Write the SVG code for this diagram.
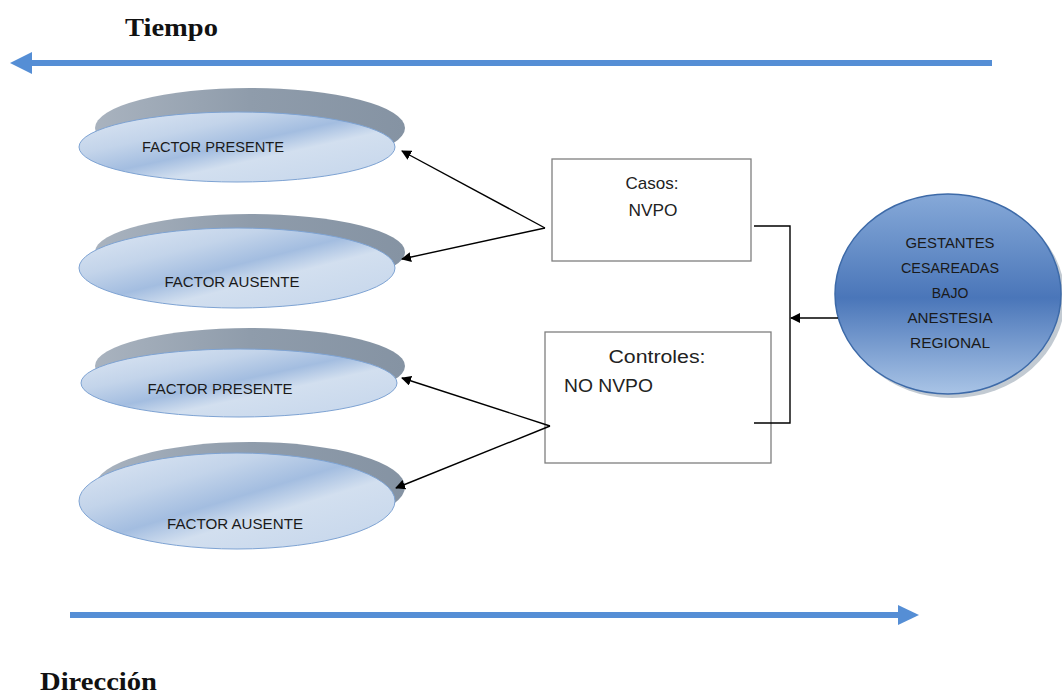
<svg xmlns="http://www.w3.org/2000/svg" width="1062" height="693" viewBox="0 0 1062 693">
<defs>
<linearGradient id="gFront" x1="0" y1="0" x2="1" y2="1">
<stop offset="0" stop-color="#dfe8f4"/>
<stop offset="0.3" stop-color="#c3d4ea"/>
<stop offset="0.48" stop-color="#a3bde0"/>
<stop offset="0.62" stop-color="#d2dfef"/>
<stop offset="1" stop-color="#c4d5eb"/>
</linearGradient>
<linearGradient id="gShadow" x1="0" y1="0" x2="1" y2="0">
<stop offset="0" stop-color="#a9b3bf"/>
<stop offset="0.5" stop-color="#8f9cab"/>
<stop offset="1" stop-color="#8593a3"/>
</linearGradient>
<linearGradient id="gCircle" x1="0" y1="0" x2="0" y2="1">
<stop offset="0" stop-color="#86a9d8"/>
<stop offset="0.52" stop-color="#4a76b9"/>
<stop offset="1" stop-color="#a9c4e6"/>
</linearGradient>
<marker id="ah" viewBox="0 0 10 10" refX="9" refY="5" markerWidth="10" markerHeight="10" markerUnits="userSpaceOnUse" orient="auto">
<path d="M0,0 L10,5 L0,10 z" fill="#000"/>
</marker>
</defs>
<style>
.shadow{fill:url(#gShadow);}
.front{fill:url(#gFront);stroke:#7ea3d3;stroke-width:1;}
.lbl{font-family:"Liberation Sans",Arial,sans-serif;font-size:14px;fill:#1a1a1a;text-anchor:middle;}
.box{fill:#fff;stroke:#7f7f7f;stroke-width:1.3;}
.btxt{font-family:"Liberation Sans",Arial,sans-serif;fill:#222;}
.conn{stroke:#000;stroke-width:1.4;fill:none;}
.big{stroke:#558ed5;stroke-width:6;fill:none;}
.title{font-family:"Liberation Serif","Times New Roman",serif;font-weight:bold;font-size:25px;fill:#111;}
</style>

<g id="tiempo">
<text class="title" x="125" y="36" textLength="93" lengthAdjust="spacingAndGlyphs">Tiempo</text>
<line class="big" x1="992" y1="63" x2="30" y2="63"/>
<path d="M10,63 L32,52 L32,74 z" fill="#558ed5"/>
</g>

<g id="direccion">
<line class="big" x1="70" y1="615" x2="900" y2="615"/>
<path d="M919,615 L898,605 L898,625 z" fill="#558ed5"/>
<text class="title" x="40" y="690" font-size="26" textLength="117" lengthAdjust="spacingAndGlyphs">Dirección</text>
</g>

<g id="e1">
<ellipse class="shadow" cx="250" cy="128" rx="155" ry="40"/>
<ellipse class="front" cx="237" cy="147" rx="158" ry="35"/>
<text class="lbl" x="213" y="152" textLength="142" lengthAdjust="spacingAndGlyphs">FACTOR PRESENTE</text>
</g>

<g id="e2">
<ellipse class="shadow" cx="250" cy="252" rx="155" ry="38"/>
<ellipse class="front" cx="237" cy="268" rx="158" ry="40"/>
<text class="lbl" x="232" y="287" textLength="135" lengthAdjust="spacingAndGlyphs">FACTOR AUSENTE</text>
</g>

<g id="e3">
<ellipse class="shadow" cx="250" cy="366" rx="155" ry="38"/>
<ellipse class="front" cx="239" cy="383" rx="158" ry="34"/>
<text class="lbl" x="220" y="394" textLength="145" lengthAdjust="spacingAndGlyphs">FACTOR PRESENTE</text>
</g>

<g id="e4">
<ellipse class="shadow" cx="250" cy="487" rx="155" ry="45"/>
<ellipse class="front" cx="237" cy="501" rx="158" ry="48"/>
<text class="lbl" x="235" y="529" textLength="136" lengthAdjust="spacingAndGlyphs">FACTOR AUSENTE</text>
</g>

<g id="casos">
<rect class="box" x="552" y="159" width="199" height="102"/>
<text class="btxt" x="652" y="189" font-size="17" text-anchor="middle" textLength="53" lengthAdjust="spacingAndGlyphs">Casos:</text>
<text class="btxt" x="653" y="216" font-size="17" text-anchor="middle" textLength="49" lengthAdjust="spacingAndGlyphs">NVPO</text>
</g>

<g id="controles">
<rect class="box" x="545" y="332" width="226" height="131"/>
<text class="btxt" x="657" y="363" font-size="18" text-anchor="middle" textLength="97" lengthAdjust="spacingAndGlyphs">Controles:</text>
<text class="btxt" x="564" y="392" font-size="18" textLength="89" lengthAdjust="spacingAndGlyphs">NO NVPO</text>
</g>

<g id="gestantes">
<ellipse cx="952" cy="298" rx="113" ry="100" fill="#9aa6b4" opacity="0.6"/>
<ellipse cx="948" cy="294" rx="113" ry="100" fill="url(#gCircle)" stroke="#3d6aa8" stroke-width="1.5"/>
<text class="lbl" x="950" y="248" textLength="89" lengthAdjust="spacingAndGlyphs">GESTANTES</text>
<text class="lbl" x="950" y="273" textLength="98" lengthAdjust="spacingAndGlyphs">CESAREADAS</text>
<text class="lbl" x="950" y="298">BAJO</text>
<text class="lbl" x="950" y="323" textLength="85" lengthAdjust="spacingAndGlyphs">ANESTESIA</text>
<text class="lbl" x="950" y="348" textLength="80" lengthAdjust="spacingAndGlyphs">REGIONAL</text>
</g>

<g id="connectors">
<line class="conn" x1="545" y1="228" x2="402" y2="151" marker-end="url(#ah)"/>
<line class="conn" x1="545" y1="228" x2="402" y2="259" marker-end="url(#ah)"/>
<line class="conn" x1="550" y1="426" x2="402" y2="378" marker-end="url(#ah)"/>
<line class="conn" x1="550" y1="426" x2="396" y2="488" marker-end="url(#ah)"/>
<polyline class="conn" points="754,226 790,226 790,423 754,423"/>
<line class="conn" x1="838" y1="318" x2="791" y2="318" marker-end="url(#ah)"/>
</g>
</svg>
